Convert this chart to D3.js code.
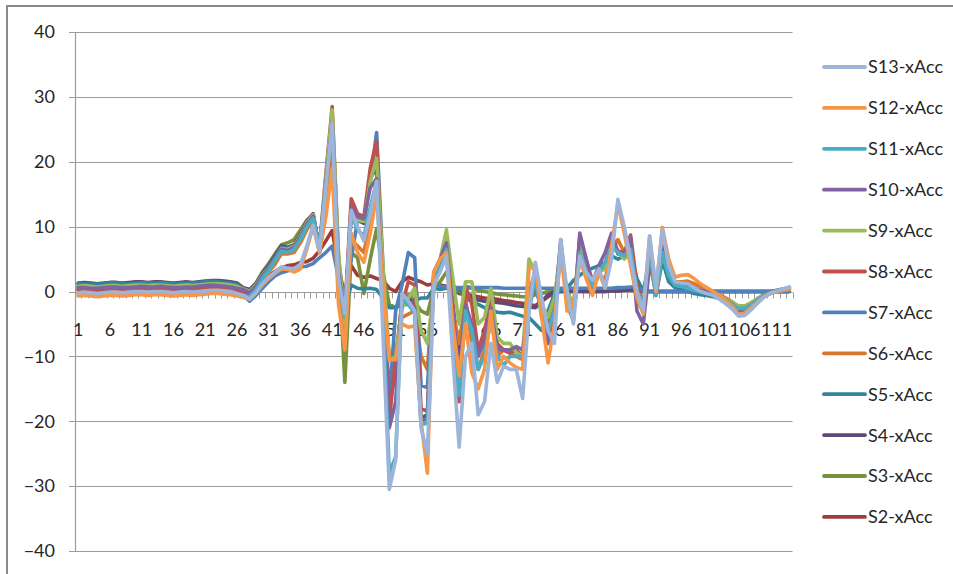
<!DOCTYPE html>
<html>
<head>
<meta charset="utf-8">
<script src="https://cdn.jsdelivr.net/npm/d3@7"></script>
<style>
  html, body { margin: 0; padding: 0; background: #fff; }
  svg { display: block; }
  text { font-family: Lato, "Open Sans", sans-serif; fill: #262626; }
</style>
</head>
<body>
<script>
// Sample index along the recording (1..113)
const sampleCount = 113;
const xTickLabels = [1, 6, 11, 16, 21, 26, 31, 36, 41, 46, 51, 56, 61, 66, 71, 76, 81, 86, 91, 96, 101, 106, 111];
const yTicks = [-40, -30, -20, -10, 0, 10, 20, 30, 40];

const seriesNames = ["S2-xAcc", "S3-xAcc", "S4-xAcc", "S5-xAcc", "S6-xAcc", "S7-xAcc",
                     "S8-xAcc", "S9-xAcc", "S10-xAcc", "S11-xAcc", "S12-xAcc", "S13-xAcc"];
const seriesColors = ["#9c3d3a", "#76923c", "#5f497a", "#31859c", "#d8772f", "#4f81bd",
                      "#c0504d", "#9bbb59", "#8064a2", "#4bacc6", "#f79646", "#9db5d9"];

const s2 = [0.4,0.5,0.4,0.3,0.4,0.5,0.5,0.4,0.5,0.6, 0.6,0.5,0.6,0.6,0.5,0.4,0.5,0.6,0.5,0.6,
  0.7,0.8,0.8,0.7,0.6,0.4,0.1,-0.5,0.4,1.5, 2.4,3.1,3.6,4.0,4.1,4.5,4.6,5.1,6.3,7.8,
  9.4,4.0,-1.0,4.0,2.5,2.2,2.4,2.0,1.7,0.5, 0.0,1.5,2.2,1.8,1.5,1.0,1.2,1.0,0.8,0.3,
  -0.3,-0.5,-0.6,-0.8,-1.0,-1.1,-1.2,-1.4,-1.5,-1.7, -1.8,-2.0,-2.2,-1.5,-0.8,-0.3,0.0,0.0,0.0,0.0,
  0.0,0.0,0.0,0.0,0.1,0.1,0.2,0.2,0.1,0.0, 0,0,0,0,0,0,0,0,0,0, 0,0,0,0,0,0,0,0,0,0, 0,0,0];
const s3 = [1.0,1.1,1.0,0.9,1.0,1.1,1.1,1.0,1.1,1.2, 1.2,1.1,1.2,1.2,1.1,1.0,1.1,1.2,1.1,1.2,
  1.3,1.4,1.4,1.3,1.2,1.0,0.5,0.2,1.3,3.0, 4.3,5.8,7.2,7.5,8.0,9.5,11.0,11.8,6.0,14.0,
  27.0,5.0,-14.0,6.0,5.2,-0.3,5.0,9.7,3.0,-2.0, -2.5,-1.0,-0.5,-1.5,-3.0,-3.5,0.5,1.5,3.0,1.0,
  0.0,0.8,0.5,0.2,0.0,-0.2,-0.4,-0.5,-0.6,-0.7, -0.8,-0.8,-0.5,-0.3,0.0,0.0,0.1,0.1,0.1,0.1,
  0.1,0.1,0.1,0.1,0.1,0.2,0.2,0.3,0.2,0.0, 0,0,0,0,0,0,0,0,0,0, 0,0,0,0,0,0,0,0,0,0, 0,0,0];
const s4 = [1.3,1.4,1.3,1.2,1.3,1.4,1.4,1.3,1.4,1.5, 1.5,1.4,1.5,1.5,1.4,1.3,1.4,1.5,1.4,1.5,
  1.6,1.7,1.7,1.6,1.5,1.3,0.6,0.3,1.2,2.8, 4.0,5.5,7.0,6.8,7.2,8.8,10.8,12.0,6.5,16.5,
  26.0,3.0,-3.0,11.5,11.0,10.5,17.5,19.0,1.0,-18.0, -12.0,-1.0,-1.0,-2.0,-19.5,-19.0,2.0,4.5,7.0,-2.0,
  -10.0,-1.5,-1.0,-1.3,-1.5,-1.6,-1.7,-1.8,-2.0,-2.2, -2.3,-2.4,-2.5,-1.5,-0.5,0.0,0.0,0.0,0.0,0.0,
  0.0,0.0,0.0,0.0,0.1,0.1,0.2,0.3,0.3,0.0, 0,0,0,0,0,0,0,0,0,0, 0,0,0,0,0,0,0,0,0,0, 0,0,0];
const s5 = [1.2,1.2,1.1,1.1,1.2,1.3,1.3,1.2,1.2,1.3, 1.4,1.3,1.3,1.4,1.3,1.2,1.2,1.3,1.3,1.4,
  1.5,1.6,1.5,1.4,1.3,1.1,0.4,0.0,1.0,2.6, 3.8,5.2,6.8,6.6,7.0,8.5,10.5,11.5,6.8,16.0,
  25.0,4.0,-2.5,1.0,0.5,0.4,0.5,0.3,-1.0,-2.5, -2.5,-2.0,-2.0,-1.5,-1.0,-1.0,0.5,0.3,0.5,0.5,
  0.3,-1.0,-1.4,-2.0,-2.5,-2.8,-3.2,-3.3,-3.2,-3.5, -3.8,-4.0,-5.0,-6.0,-3.0,-0.5,0.2,0.5,1.7,2.5,
  3.2,3.6,4.0,4.5,5.5,5.0,5.5,6.0,2.0,0.0, 5.0,-0.6,4.8,1.5,0.6,0.4,0.0,-0.3,-0.5,-0.6,
  -0.8,-1.1,-1.4,-1.8,-2.4,-2.5,-1.8,-1.1,-0.5,-0.1, 0.2,0.4,0.6];
const s6 = [0.2,0.3,0.2,0.1,0.2,0.3,0.3,0.2,0.3,0.4, 0.4,0.3,0.4,0.4,0.3,0.2,0.3,0.4,0.3,0.4,
  0.5,0.6,0.6,0.5,0.4,0.2,-0.2,-0.5,0.5,1.8, 3.0,4.2,5.8,5.8,6.0,7.5,9.5,11.0,6.2,12.0,
  22.0,0.0,-7.5,8.0,7.0,6.0,11.0,16.0,2.0,-10.0, -9.5,-4.0,-3.5,-3.0,-10.0,-12.0,2.0,4.0,5.5,-3.0,
  -8.0,-1.0,-8.0,-12.0,-9.0,-2.0,-10.0,-9.0,-9.5,-10.0, -10.5,0.0,3.0,-3.0,-8.0,-3.0,6.0,-1.0,-2.0,5.0,
  3.0,0.5,2.5,2.0,6.0,8.0,6.0,5.0,-1.0,-3.0, 6.0,0.0,7.0,3.0,1.5,1.5,1.6,1.2,0.8,0.3,
  0.0,-0.5,-1.0,-1.6,-2.3,-2.3,-1.8,-1.2,-0.6,-0.2, 0.0,0.2,0.3];
const s7 = [0.7,0.8,0.7,0.6,0.7,0.8,0.8,0.7,0.8,0.9, 0.9,0.8,0.9,0.9,0.8,0.7,0.8,0.9,0.8,0.9,
  1.0,1.1,1.1,1.0,0.8,0.4,-0.6,-1.5,-0.6,0.5, 1.5,2.4,2.9,3.2,3.4,3.8,3.9,4.3,5.2,6.0,
  7.0,2.0,-0.5,5.0,11.0,11.0,17.0,24.5,4.0,-17.0, -3.0,1.0,6.0,5.2,-14.5,-14.8,1.0,0.8,0.7,0.6,
  0.6,0.6,0.6,0.6,0.6,0.6,0.6,0.5,0.5,0.5, 0.5,0.5,0.5,0.5,0.5,0.5,0.5,0.5,0.5,0.5,
  0.5,0.5,0.5,0.5,0.5,0.6,0.6,0.7,0.7,0.1, 0,0,0,0,0,0,0,0,0,0, 0,0,0,0,0,0,0,0,0,0, 0,0,0];
const s8 = [0.2,0.3,0.3,0.2,0.2,0.3,0.4,0.3,0.3,0.4, 0.5,0.4,0.4,0.5,0.4,0.3,0.3,0.4,0.4,0.5,
  0.6,0.7,0.6,0.5,0.4,0.2,0.0,-0.4,0.7,2.2, 3.4,4.8,6.4,6.4,6.9,8.5,10.5,11.9,6.6,18.0,
  28.5,5.0,-3.0,14.3,12.0,11.5,19.0,23.2,2.0,-20.0, -10.0,-2.0,1.5,1.0,-18.0,-18.5,2.5,4.0,7.0,-2.0,
  -17.0,0.8,-2.0,-9.0,-6.0,-1.5,-8.0,-9.0,-9.5,-9.0, -10.0,-2.0,1.0,-3.0,-5.0,-2.0,7.5,-1.0,-4.0,8.5,
  5.0,1.0,3.0,4.0,8.5,6.2,6.0,8.7,1.0,-2.0, 6.0,0.0,7.0,3.0,1.2,1.0,0.8,0.4,0.0,-0.2,
  -0.5,-1.0,-1.6,-2.2,-3.0,-3.0,-2.3,-1.5,-0.8,-0.3, 0.0,0.3,0.5];
const s9 = [0.8,0.9,0.8,0.7,0.8,0.9,0.9,0.8,0.9,1.0, 1.0,0.9,1.0,1.0,0.9,0.8,0.9,1.0,0.9,1.0,
  1.1,1.2,1.2,1.1,1.0,0.8,0.4,0.0,1.0,2.5, 3.6,5.0,6.6,6.5,7.0,8.6,10.6,11.8,6.2,17.5,
  28.0,6.0,-5.0,12.5,11.0,10.8,17.0,20.5,4.0,-10.6, -10.0,-2.5,-1.0,0.5,-6.0,-8.0,0.0,5.0,9.5,2.0,
  -5.0,1.5,1.5,-5.0,-4.0,0.5,-7.0,-8.0,-8.0,-9.4, -10.0,5.0,3.0,-2.0,-4.0,-1.0,6.0,0.0,-2.0,7.0,
  4.0,1.0,3.0,3.5,7.0,6.0,5.0,6.0,0.0,-2.0, 5.0,0.0,6.0,2.5,1.0,0.8,0.6,0.3,0.0,-0.2,
  -0.4,-0.8,-1.2,-1.7,-2.2,-2.2,-1.7,-1.1,-0.6,-0.2, 0.0,0.2,0.3];
const s10 = [0.6,0.6,0.5,0.5,0.6,0.7,0.7,0.6,0.6,0.7, 0.8,0.7,0.7,0.8,0.7,0.6,0.6,0.7,0.7,0.8,
  0.9,1.0,0.9,0.8,0.7,0.5,0.3,-0.2,0.8,2.4, 3.5,5.0,6.5,6.3,6.8,8.4,10.4,11.6,6.8,16.5,
  26.0,3.0,-3.5,13.0,11.5,11.2,16.0,17.4,0.0,-21.0, -17.0,-1.5,-1.5,-2.5,-20.0,-19.5,3.0,5.0,7.5,-3.0,
  -13.0,-2.0,-5.0,-10.0,-7.5,-2.5,-9.0,-9.0,-9.0,-8.5, -9.0,-2.0,1.0,-3.0,-8.0,-5.0,8.0,-2.0,-4.5,9.0,
  5.0,1.5,4.0,6.0,9.0,5.8,6.0,8.3,-3.0,-5.0, 4.0,1.0,7.0,3.0,1.3,1.2,1.0,0.6,0.2,-0.1,
  -0.4,-0.8,-1.4,-2.0,-2.8,-2.8,-2.1,-1.4,-0.7,-0.2, 0.0,0.2,0.4];
const s11 = [-0.4,-0.3,-0.4,-0.5,-0.4,-0.3,-0.3,-0.4,-0.3,-0.2, -0.3,-0.4,-0.3,-0.3,-0.4,-0.5,-0.4,-0.3,-0.4,-0.3,
  -0.2,-0.1,-0.1,-0.2,-0.3,-0.5,-0.6,-0.8,0.3,2.0, 3.2,4.8,6.2,6.0,6.5,8.0,10.0,11.3,7.0,16.0,
  25.5,2.0,-4.0,12.0,9.5,8.5,13.0,17.0,-3.0,-28.0, -25.5,-1.0,-2.0,-3.4,-20.5,-20.3,2.0,4.0,6.5,-6.0,
  -16.0,-3.0,-6.0,-12.0,-10.0,-4.0,-10.0,-11.4,-10.0,-10.0, -10.0,-3.0,2.0,-4.0,-6.0,-3.0,7.0,-1.5,-3.0,6.0,
  3.0,1.0,3.0,4.5,7.0,6.0,5.5,6.5,0.0,-2.0, 6.0,-0.5,6.0,2.5,1.0,0.8,0.5,0.2,0.0,-0.3,
  -0.5,-1.0,-1.5,-2.0,-2.6,-2.6,-2.0,-1.3,-0.7,-0.2, 0.0,0.3,0.5];
const s12 = [-0.7,-0.6,-0.7,-0.8,-0.7,-0.6,-0.6,-0.7,-0.6,-0.5, -0.5,-0.6,-0.5,-0.5,-0.6,-0.7,-0.6,-0.5,-0.6,-0.5,
  -0.4,-0.3,-0.3,-0.4,-0.5,-0.7,-0.9,-1.2,-0.2,1.0, 2.0,2.8,3.5,3.4,3.0,3.5,6.5,10.0,6.0,11.5,
  19.0,-2.0,-9.0,9.0,6.0,4.5,9.0,15.0,1.0,-10.5, -10.5,-5.0,-5.5,-5.3,-20.0,-28.0,3.0,5.0,6.0,-5.0,
  -13.0,-5.0,-12.5,-15.0,-12.0,-3.0,-12.0,-10.0,-11.0,-11.7, -12.0,3.5,4.0,-4.0,-11.0,-5.0,6.5,-3.0,-2.0,5.0,
  2.0,-0.6,3.0,0.5,7.0,13.5,9.0,4.0,-1.0,-3.5, 8.5,0.0,9.9,5.0,2.2,2.5,2.6,2.0,1.2,0.6,
  0.0,-0.6,-1.4,-2.3,-3.5,-3.3,-2.5,-1.6,-0.8,-0.3, 0.0,0.2,0.4];
const s13 = [-0.2,-0.1,-0.2,-0.3,-0.2,-0.1,-0.1,-0.2,-0.1,0.0, 0.0,-0.1,0.0,0.0,-0.1,-0.2,-0.1,0.0,-0.1,0.0,
  0.1,0.2,0.2,0.1,0.0,-0.3,-0.6,-1.2,-0.2,1.2, 2.2,3.0,3.8,3.6,3.5,4.2,7.0,10.2,6.3,16.0,
  26.0,2.0,-3.4,12.5,10.0,7.8,12.0,17.0,-6.5,-30.5, -26.0,-0.3,-1.5,-3.0,-21.0,-25.0,1.0,3.0,5.5,-10.0,
  -24.0,-10.0,-8.0,-19.0,-17.0,-8.0,-14.0,-11.5,-12.0,-12.0, -16.5,-3.0,4.5,-1.0,-6.0,-8.0,8.0,0.0,-5.0,5.5,
  3.0,1.7,3.5,0.6,5.0,14.2,10.0,5.0,0.0,-3.0, 8.6,0.5,9.5,4.0,1.5,1.3,1.2,0.6,0.0,-0.3,
  -0.6,-1.2,-1.9,-2.7,-3.8,-3.7,-2.8,-1.8,-0.9,-0.3, 0.1,0.4,0.7];

const seriesValues = [s2, s3, s4, s5, s6, s7, s8, s9, s10, s11, s12, s13];
const categories = d3.range(1, sampleCount + 1);

const W = 953, H = 574;
const plot = { left: 75, right: 792.5, top: 32, bottom: 551 };

const svg = d3.select("body").append("svg").attr("width", W).attr("height", H);

// chart frame (top and left edges fall inside the view)
svg.append("rect")
  .attr("x", 7).attr("y", 6).attr("width", 960).attr("height", 600)
  .attr("fill", "#fff").attr("stroke", "#8a8a8a").attr("stroke-width", 2);

const x = d3.scaleBand().domain(categories).range([plot.left, plot.right]).padding(0);
const y = d3.scaleLinear().domain([-40, 40]).range([plot.bottom, plot.top]);
const cx = c => x(c) + x.bandwidth() / 2;

// horizontal gridlines with left tick stubs
svg.append("g").selectAll("line").data(yTicks).join("line")
  .attr("x1", plot.left - 6).attr("x2", plot.right)
  .attr("y1", d => Math.round(y(d)) + 0.5).attr("y2", d => Math.round(y(d)) + 0.5)
  .attr("stroke", "#9b9b9b").attr("stroke-width", 1.2);

// vertical value axis line
svg.append("line")
  .attr("x1", plot.left + 0.5).attr("x2", plot.left + 0.5)
  .attr("y1", plot.top).attr("y2", plot.bottom)
  .attr("stroke", "#9b9b9b").attr("stroke-width", 1.2);

// value axis labels
const yAxis = svg.append("g").attr("transform", `translate(${plot.left},0)`)
  .call(d3.axisLeft(y).tickValues(yTicks).tickSize(0).tickPadding(20).tickFormat(d3.format("d")));
yAxis.select(".domain").remove();
yAxis.selectAll("text").attr("font-size", 18).style("font-family", "Lato, 'Open Sans', sans-serif").attr("fill", "#262626");

// category tick marks along the zero line
const y0 = Math.round(y(0)) + 0.5;
const boundaries = categories.map(c => x(c)).concat([x(categories[categories.length - 1]) + x.bandwidth()]);
svg.append("g").selectAll("line").data(boundaries).join("line")
  .attr("x1", d => Math.round(d) + 0.5).attr("x2", d => Math.round(d) + 0.5)
  .attr("y1", y0).attr("y2", y0 + 6)
  .attr("stroke", "#9b9b9b").attr("stroke-width", 1);

// category labels
const xAxis = svg.append("g").attr("transform", `translate(0,${y0})`)
  .call(d3.axisBottom(x).tickValues(xTickLabels).tickSize(0).tickPadding(31));
xAxis.select(".domain").remove();
xAxis.selectAll("text").attr("font-size", 18).style("font-family", "Lato, 'Open Sans', sans-serif").attr("fill", "#262626");

// series lines
const line = d3.line().x((d, i) => cx(categories[i])).y(d => y(d));
svg.append("g").selectAll("path").data(seriesValues).join("path")
  .attr("d", d => line(d))
  .attr("fill", "none")
  .attr("stroke", (d, i) => seriesColors[i])
  .attr("stroke-width", 3.6)
  .attr("stroke-linejoin", "round")
  .attr("stroke-linecap", "round");

// legend, last series listed first
const legendOrder = d3.range(seriesNames.length).reverse();
const legend = svg.append("g").selectAll("g").data(legendOrder).join("g")
  .attr("transform", (d, i) => `translate(0,${67 + i * 40.9})`);
legend.append("line")
  .attr("x1", 824).attr("x2", 865).attr("y1", 0).attr("y2", 0)
  .attr("stroke", d => seriesColors[d]).attr("stroke-width", 3.8).attr("stroke-linecap", "round");
legend.append("text")
  .attr("x", 868).attr("y", 0).attr("dy", "0.36em")
  .attr("font-size", 18)
  .text(d => seriesNames[d]);
</script>
</body>
</html>
